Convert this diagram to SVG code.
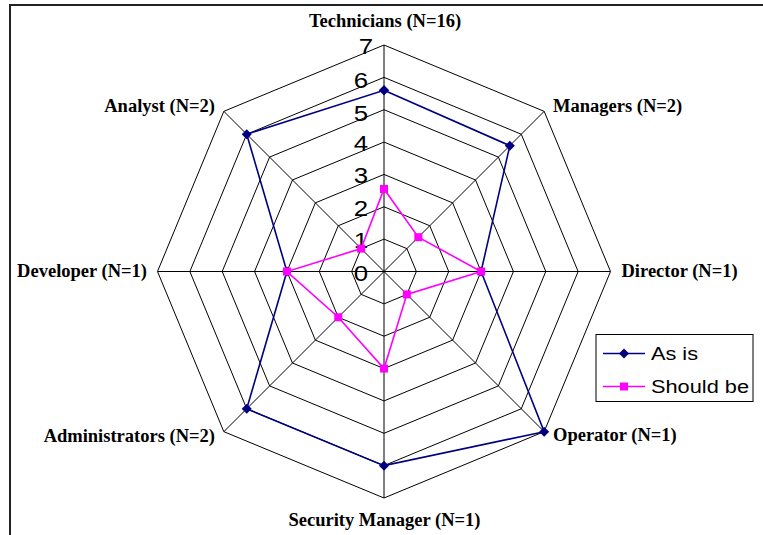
<svg xmlns="http://www.w3.org/2000/svg" width="763" height="535" viewBox="0 0 763 535">
  <style>
    .ring { fill: none; stroke: #000; stroke-width: 1; }
    .spoke { stroke: #000; stroke-width: 1; }
    .cat { font-family: "Liberation Serif", "Times New Roman", serif; font-weight: bold; font-size: 18.5px; fill: #000; }
    .tick { font-family: "Liberation Sans", Arial, sans-serif; font-size: 21.5px; fill: #000; text-anchor: end; }
    .leg { font-family: "Liberation Sans", Arial, sans-serif; font-size: 18px; fill: #000; }
    .asis { fill: none; stroke: #000080; stroke-width: 1.6; stroke-linejoin: miter; }
    .should { fill: none; stroke: #FF00FF; stroke-width: 1.6; stroke-linejoin: miter; }
  </style>
  <defs>
    <marker id="mk-diamond" markerUnits="userSpaceOnUse" markerWidth="12" markerHeight="12" refX="6" refY="6" orient="0" overflow="visible">
      <path d="M6,1 L11,6 L6,11 L1,6 Z" fill="#000080"/>
    </marker>
    <marker id="mk-square" markerUnits="userSpaceOnUse" markerWidth="10" markerHeight="10" refX="5" refY="5" orient="0" overflow="visible">
      <rect x="1" y="1" width="8" height="8" fill="#FF00FF"/>
    </marker>
  </defs>

  <rect x="0" y="0" width="763" height="535" fill="#fff"/>
  <!-- chart frame -->
  <path d="M10,535 V5 H763" fill="none" stroke="#222" stroke-width="2"/>

  <!-- radar grid -->
  <g id="grid" transform="translate(384,271.5)">
    <polygon class="ring" points="0,-32.36 22.88,-22.88 32.36,0 22.88,22.88 0,32.36 -22.88,22.88 -32.36,0 -22.88,-22.88"/>
    <polygon class="ring" points="0,-64.71 45.76,-45.76 64.71,0 45.76,45.76 0,64.71 -45.76,45.76 -64.71,0 -45.76,-45.76"/>
    <polygon class="ring" points="0,-97.07 68.64,-68.64 97.07,0 68.64,68.64 0,97.07 -68.64,68.64 -97.07,0 -68.64,-68.64"/>
    <polygon class="ring" points="0,-129.43 91.52,-91.52 129.43,0 91.52,91.52 0,129.43 -91.52,91.52 -129.43,0 -91.52,-91.52"/>
    <polygon class="ring" points="0,-161.79 114.4,-114.4 161.79,0 114.4,114.4 0,161.79 -114.4,114.4 -161.79,0 -114.4,-114.4"/>
    <polygon class="ring" points="0,-194.14 137.28,-137.28 194.14,0 137.28,137.28 0,194.14 -137.28,137.28 -194.14,0 -137.28,-137.28"/>
    <polygon class="ring" points="0,-226.5 160.16,-160.16 226.5,0 160.16,160.16 0,226.5 -160.16,160.16 -226.5,0 -160.16,-160.16"/>
    <line class="spoke" x1="0" y1="0" x2="0" y2="-226.5"/>
    <line class="spoke" x1="0" y1="0" x2="160.16" y2="-160.16"/>
    <line class="spoke" x1="0" y1="0" x2="226.5" y2="0"/>
    <line class="spoke" x1="0" y1="0" x2="160.16" y2="160.16"/>
    <line class="spoke" x1="0" y1="0" x2="0" y2="226.5"/>
    <line class="spoke" x1="0" y1="0" x2="-160.16" y2="160.16"/>
    <line class="spoke" x1="0" y1="0" x2="-226.5" y2="0"/>
    <line class="spoke" x1="0" y1="0" x2="-160.16" y2="-160.16"/>
  </g>

  <!-- value scale -->
  <g id="scale">
    <g transform="translate(368,280.5) scale(1.2,1)"><text class="tick">0</text></g>
    <g transform="translate(368,248.1) scale(1.2,1)"><text class="tick">1</text></g>
    <g transform="translate(368,215.8) scale(1.2,1)"><text class="tick">2</text></g>
    <g transform="translate(368,183.4) scale(1.2,1)"><text class="tick">3</text></g>
    <g transform="translate(368,151.1) scale(1.2,1)"><text class="tick">4</text></g>
    <g transform="translate(368,120.7) scale(1.2,1)"><text class="tick">5</text></g>
    <g transform="translate(368,88.4) scale(1.2,1)"><text class="tick">6</text></g>
    <g transform="translate(373,53.5) scale(1.2,1)"><text class="tick">7</text></g>
  </g>

  <!-- series -->
  <g id="connectors" transform="translate(384,271.5)">
    <polygon id="series-as-is" class="asis" marker-start="url(#mk-diamond)" marker-mid="url(#mk-diamond)" marker-end="url(#mk-diamond)"
      points="0,-181.2 125.84,-125.84 97.07,0 160.16,160.16 0,194.14 -137.28,137.28 -97.07,0 -137.28,-137.28"/>
    <polygon id="series-should-be" class="should" marker-start="url(#mk-square)" marker-mid="url(#mk-square)" marker-end="url(#mk-square)"
      points="0,-82.5 34.32,-34.32 97.07,0 22.88,22.88 0,97.07 -45.76,45.76 -97.07,0 -22.88,-22.88"/>
  </g>

  <!-- category labels -->
  <g id="technicians"><text class="cat" x="385" y="27" text-anchor="middle">Technicians (N=16)</text></g>
  <g id="managers"><text class="cat" x="553" y="111.5">Managers (N=2)</text></g>
  <g id="director"><text class="cat" x="621.5" y="276.5">Director (N=1)</text></g>
  <g id="operator"><text class="cat" x="553" y="441">Operator (N=1)</text></g>
  <g id="security-manager"><text class="cat" x="384.5" y="526" text-anchor="middle">Security Manager (N=1)</text></g>
  <g id="administrators"><text class="cat" x="215" y="442" text-anchor="end">Administrators (N=2)</text></g>
  <g id="developer"><text class="cat" x="147" y="276.5" text-anchor="end">Developer (N=1)</text></g>
  <g id="analyst"><text class="cat" x="215" y="111.5" text-anchor="end">Analyst (N=2)</text></g>

  <!-- legend -->
  <g id="legend">
    <rect x="596" y="334.5" width="157" height="67" fill="#fff" stroke="#000" stroke-width="1"/>
    <line x1="603" y1="353.5" x2="645" y2="353.5" stroke="#000080" stroke-width="1.6"/>
    <path d="M624,348.5 L629,353.5 L624,358.5 L619,353.5 Z" fill="#000080"/>
    <text class="leg" x="651" y="359.5" textLength="47" lengthAdjust="spacingAndGlyphs">As is</text>
    <line x1="603" y1="386.5" x2="645" y2="386.5" stroke="#FF00FF" stroke-width="1.6"/>
    <rect x="620" y="382.5" width="8" height="8" fill="#FF00FF"/>
    <text class="leg" x="651" y="393" textLength="98" lengthAdjust="spacingAndGlyphs">Should be</text>
  </g>
</svg>
